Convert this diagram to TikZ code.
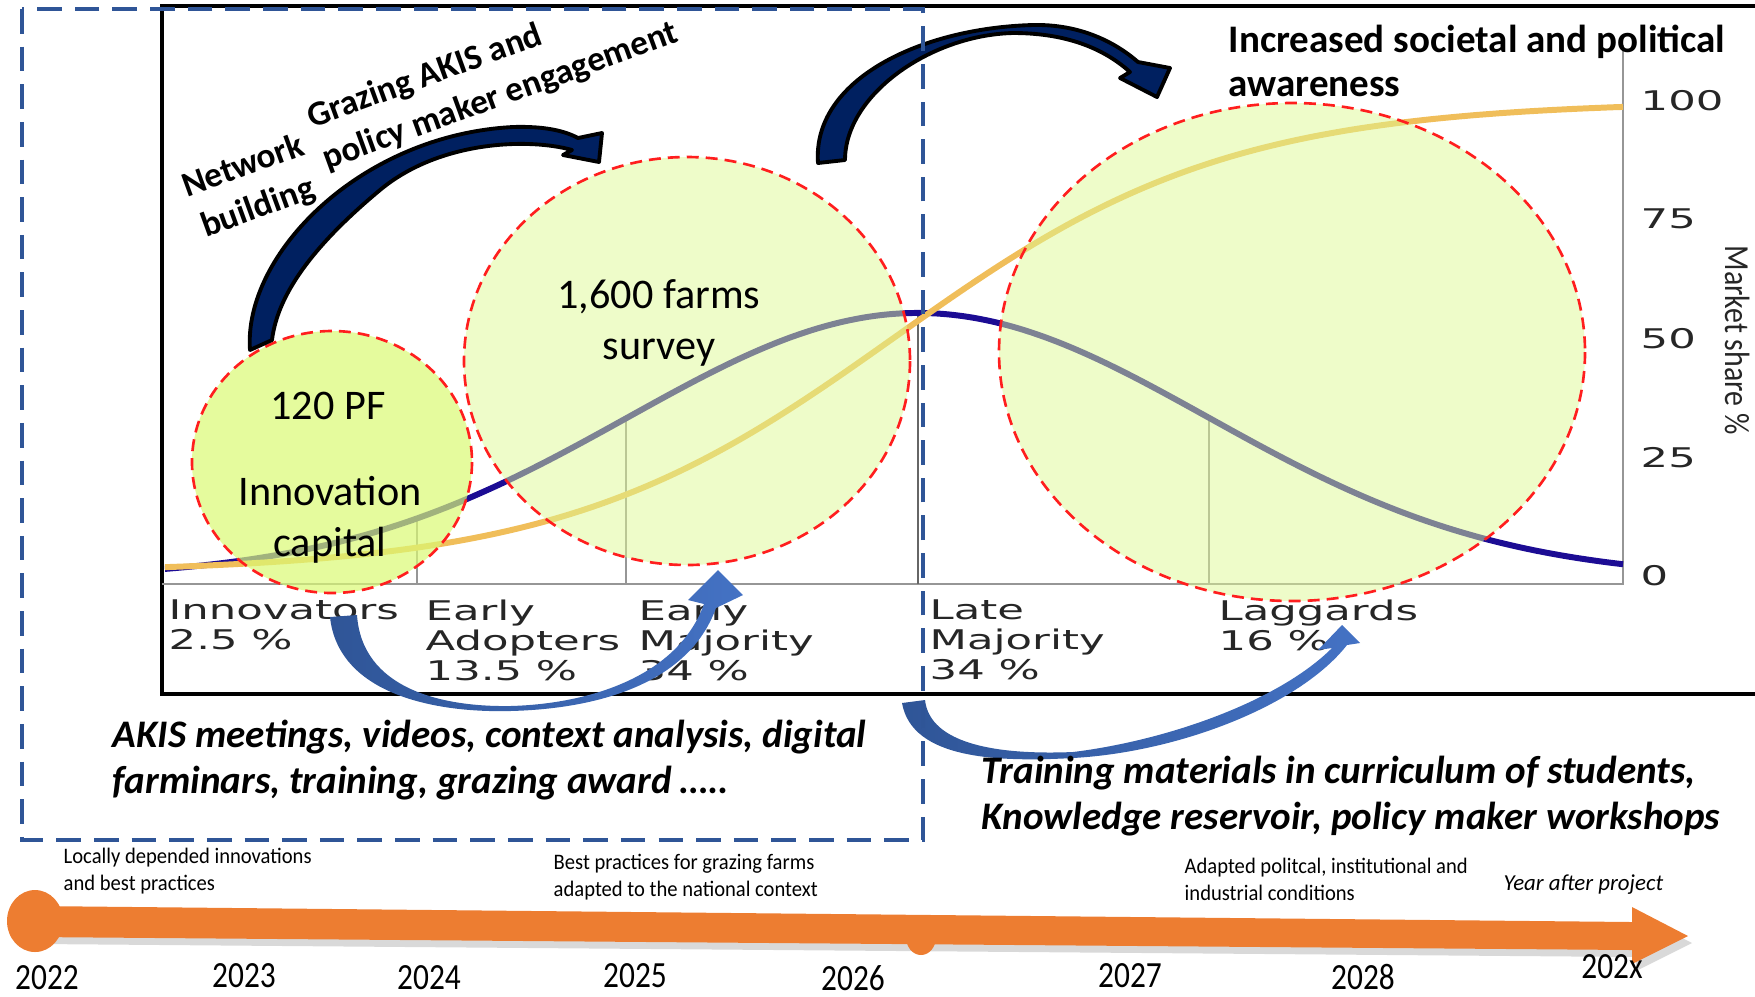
\documentclass[tikz,border=0pt]{standalone}
\usepackage{fontspec}
\setmainfont{Carlito}
\newfontfamily\chartfont[FakeStretch=1.6]{DejaVu Sans}
\newfontfamily\narrowfont[FakeStretch=0.85]{Carlito}
\newfontfamily\notefont[FakeStretch=0.93]{Carlito}
\usetikzlibrary{calc}
\definecolor{dashblue}{RGB}{47,85,151}
\definecolor{arrowblue}{RGB}{68,114,196}
\definecolor{navy}{RGB}{0,32,96}
\definecolor{bellblue}{RGB}{28,12,148}
\definecolor{sorange}{RGB}{240,190,90}
\definecolor{bubblefill}{RGB}{222,249,147}
\definecolor{smallfill}{RGB}{218,249,116}
\definecolor{bubblered}{RGB}{255,30,30}
\definecolor{timeorange}{RGB}{237,125,49}
\definecolor{axisgray}{RGB}{150,150,150}

\begin{document}
\begin{tikzpicture}[x=0.01cm, y=-0.01cm,
    declare function={bell(\x)=578-265*exp(-0.5*((\x-918)/290)*((\x-918)/290));
                      scurve(\x)=573-472/(1+exp(-0.006*(\x-895)));},
    bubble/.style={draw=bubblered, line width=0.75pt, dash pattern=on 3.4pt off 2pt,
                   fill=bubblefill, fill opacity=0.5},
    catlabel/.style={anchor=north west, inner sep=0pt, align=left, text=black!85,
                     font=\chartfont\fontsize{7.7}{8.6}\selectfont},
    ticklabel/.style={anchor=west, inner sep=0pt, text=black!85,
                      font=\chartfont\fontsize{7.7}{8.6}\selectfont},
    bubbletext/.style={inner sep=0pt, align=center, font=\fontsize{12}{14.5}\selectfont},
    boldnote/.style={anchor=north west, inner sep=0pt, align=left,
                     font=\bfseries\itshape\fontsize{11.1}{13.1}\selectfont},
    slanted/.style={inner sep=0pt, rotate=20, font=\bfseries\fontsize{10}{12.5}\selectfont},
    yearlabel/.style={inner sep=0pt, font=\narrowfont\fontsize{10.5}{12}\selectfont},
    timenote/.style={anchor=north west, inner sep=0pt, align=left,
                     font=\notefont\fontsize{6.3}{7.7}\selectfont},
    navyarrow/.style={fill=navy, draw=black, line width=1.1pt, line join=round},
    bluearrow/.style={left color=dashblue, right color=arrowblue}]

    \useasboundingbox (0,0) rectangle (1755,996);

    % chart frame and axes
    \draw[black, line width=1pt] (1755,6) -- (162,6) -- (162,694) -- (1755,694);
    \draw[axisgray, line width=0.7pt] (162,584) -- (1623,584) -- (1623,45);
    \foreach \cx in {417,626,1209}
        \draw[axisgray, line width=0.45pt] (\cx,584) -- (\cx,{bell(\cx)});
    \draw[black!60, line width=0.8pt] (918,584) -- (918,{bell(918)});

    % adoption curves
    \draw[bellblue, line width=1.7pt] plot[domain=165:1623, samples=120, smooth] (\x,{bell(\x)});
    \draw[sorange, line width=1.7pt] plot[domain=165:1623, samples=120, smooth] (\x,{scurve(\x)});

    % bubbles
    \draw[bubble, fill=smallfill, fill opacity=0.7] (332,462) ellipse [x radius=140, y radius=131];
    \draw[bubble] (687,361) ellipse [x radius=223, y radius=204];
    \draw[bubble] (1292,352) ellipse [x radius=293, y radius=249];

    \node[bubbletext] (pf) at (328,406) {120 PF};
    \node[bubbletext] (capital) at (330,520) {Innovation\\capital};
    \node[bubbletext] (survey) at (659,323) {1,600 farms\\survey};

    % category and tick labels
    \node[catlabel] (innov) at (168,599) {Innovators\\2.5 \%};
    \node[catlabel] (early) at (425,599) {Early\\Adopters\\13.5 \%};
    \node[catlabel] (earlymaj) at (638,599) {Early\\Majority\\34 \%};
    \node[catlabel] (latemaj) at (929,599) {Late\\Majority\\34 \%};
    \node[catlabel] (lagg) at (1218,599) {Laggards\\16 \%};

    \node[ticklabel] (t100) at (1640,101) {100};
    \node[ticklabel] (t75) at (1640,219) {75};
    \node[ticklabel] (t50) at (1640,339) {50};
    \node[ticklabel] (t25) at (1640,458) {25};
    \node[ticklabel] (t0) at (1640,576) {0};
    \node[rotate=-90, inner sep=0pt, text=black!85, font=\narrowfont\fontsize{10}{12}\selectfont] (share) at (1738,340) {Market share \%};

    % curved arrows
    \filldraw[navyarrow] (250,350) .. controls (243,255) and (360,135) .. (513,127)
        .. controls (545,126) and (565,131) .. (578,138) -- (602,133) -- (599,162) -- (563,155) -- (572,150)
        .. controls (530,138) and (440,140) .. (380,190) .. controls (320,240) and (278,290) .. (272,340) -- cycle;
    \filldraw[navyarrow] (818,163) .. controls (812,80) and (920,28) .. (1033,25)
        .. controls (1080,24) and (1115,42) .. (1138,62) -- (1170,68) -- (1157,97) -- (1120,78) -- (1130,72)
        .. controls (1100,45) and (1060,33) .. (1013,33) .. controls (930,35) and (845,95) .. (845,160) -- cycle;

    \shade[bluearrow] (330,617) .. controls (338,692) and (430,713) .. (510,711)
        .. controls (595,709) and (688,685) .. (716,608) -- (743,595) -- (718,570) -- (688,600) -- (704,604)
        .. controls (678,676) and (590,704) .. (510,706) .. controls (440,707) and (362,688) .. (357,615) -- cycle;
    \shade[bluearrow] (902,703) .. controls (912,760) and (1000,762) .. (1073,758)
        .. controls (1180,752) and (1300,705) .. (1347,645) -- (1360,643) -- (1342,625) -- (1318,650) -- (1332,648)
        .. controls (1280,700) and (1170,740) .. (1073,752) .. controls (1000,755) and (930,745) .. (925,700) -- cycle;

    % texts
    \node[slanted, align=center] (network) at (251,188) {Network\\building};
    \node[slanted, align=left] (grazing) at (493,76) {Grazing AKIS and\\policy maker engagement};
    \node[anchor=north west, inner sep=0pt, align=left, font=\bfseries\fontsize{11.1}{12.6}\selectfont] (aware) at (1228,24)
        {Increased societal and political\\awareness};
    \node[boldnote] (akis) at (112,719) {AKIS meetings, videos, context analysis, digital\\farminars, training, grazing award \dots..};
    \node[boldnote] (train) at (981,755) {Training materials in curriculum of students,\\Knowledge reservoir, policy maker workshops};

    % project box
    \draw[dashblue, line width=1.3pt, dash pattern=on 7pt off 3.7pt] (22,9) rectangle (923,840);

    % timeline
    \fill[black, opacity=0.15] (40,913) -- (1636,929) -- (1636,914) -- (1692,943) -- (1636,971) -- (1636,957) -- (40,944) -- cycle;
    \fill[timeorange] (35,906) -- (1632,922) -- (1632,907) -- (1688,936) -- (1632,964) -- (1632,950) -- (35,937) -- cycle;
    \fill[timeorange] (35,921) ellipse [x radius=28, y radius=31];
    \fill[timeorange] (921,937) ellipse [x radius=15, y radius=18];

    \node[yearlabel] (y2022) at (47,978) {2022};
    \node[yearlabel] (y2023) at (244,976) {2023};
    \node[yearlabel] (y2024) at (429,978) {2024};
    \node[yearlabel] (y2025) at (635,976) {2025};
    \node[yearlabel] (y2026) at (853,978) {2026};
    \node[yearlabel] (y2027) at (1130,976) {2027};
    \node[yearlabel] (y2028) at (1363,977) {2028};
    \node[yearlabel] (y202x) at (1612,967) {202x};

    \node[timenote] (local) at (63,847) {Locally depended innovations\\and best practices};
    \node[timenote] (best) at (553,853) {Best practices for grazing farms\\adapted to the national context};
    \node[timenote] (adapted) at (1184,857) {Adapted politcal, institutional and\\industrial conditions};
    \node[anchor=west, inner sep=0pt, font=\itshape\fontsize{6.5}{8}\selectfont] (after) at (1503,885) {Year after project};

\end{tikzpicture}
\end{document}
